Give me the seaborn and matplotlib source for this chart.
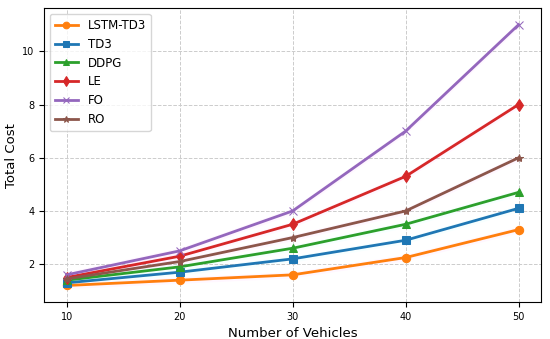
import numpy as np
import pandas as pd
import seaborn as sns
import matplotlib.pyplot as plt

## Datos
vehiculos = [10, 20, 30, 40, 50]
lstm_td3 = [1.2, 1.4, 1.6, 2.25, 3.3]
td3 = [1.3, 1.7, 2.2, 2.9, 4.1]
ddpg = [1.4, 1.9, 2.6, 3.5, 4.7]
le = [1.5, 2.3, 3.5, 5.3, 8.0]
fo = [1.6, 2.5, 4.0, 7.0, 11.0]
ro = [1.45, 2.1, 3.0, 4.0, 6.0]

series = {'LSTM-TD3': lstm_td3, 'TD3': td3, 'DDPG': ddpg, 'LE': le, 'FO': fo, 'RO': ro}
marcadores = {'LSTM-TD3': 'o', 'TD3': 's', 'DDPG': '^', 'LE': 'd', 'FO': 'x', 'RO': '*'}
colores = {'LSTM-TD3': 'tab:orange', 'TD3': 'tab:blue', 'DDPG': 'tab:green',
           'LE': 'tab:red', 'FO': 'tab:purple', 'RO': 'tab:brown'}
bandas = {'LSTM-TD3': 'magenta', 'TD3': 'cyan', 'DDPG': 'cyan',
          'LE': 'magenta', 'FO': 'magenta', 'RO': 'magenta'}

fig, ax = plt.subplots(figsize=(5.5, 3.39), dpi=100)

for nombre, valores in series.items():
    df = pd.DataFrame({'x': vehiculos, 'y': valores})
    y = np.array(valores)
    ax.fill_between(vehiculos, y - 0.12, y + 0.12, color=bandas[nombre], alpha=0.03, linewidth=0)
    sns.lineplot(data=df, x='x', y='y', ax=ax, label=nombre, color=colores[nombre],
                 marker=marcadores[nombre], markersize=6, linewidth=2, markeredgecolor=colores[nombre])

ax.set_xlabel('Number of Vehicles', fontsize=9.5)
ax.set_ylabel('Total Cost', fontsize=9.5, labelpad=3)
ax.set_xticks([10, 20, 30, 40, 50])
ax.set_yticks([2, 4, 6, 8, 10])
ax.tick_params(labelsize=7)
ax.grid(True, linestyle='--', color='#cccccc', linewidth=0.7)
ax.legend(loc='upper left', fontsize=8.5, framealpha=0.8, markerscale=0.8)

plt.subplots_adjust(left=0.08, right=0.984, top=0.976, bottom=0.109)
plt.savefig('out.png')
